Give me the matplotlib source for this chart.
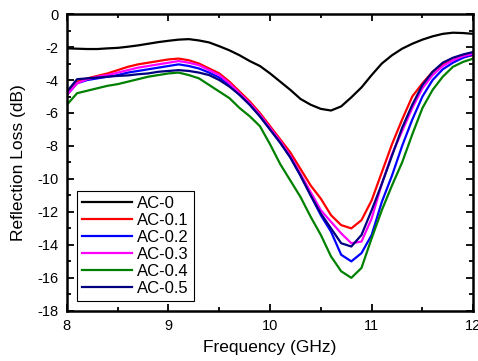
import numpy as np
import matplotlib.pyplot as plt
from matplotlib.ticker import MultipleLocator

plt.rcParams['font.family'] = ['Liberation Sans', 'DejaVu Sans']
plt.rcParams['axes.unicode_minus'] = False

# frequency points (GHz)
freq = np.round(np.arange(8.0, 12.01, 0.1), 1)

# reflection loss (dB)
ac0 = [-2.08, -2.1, -2.12, -2.12, -2.08, -2.05, -1.98, -1.9, -1.8, -1.7,
       -1.62, -1.55, -1.52, -1.6, -1.72, -1.95, -2.2, -2.5, -2.85, -3.15,
       -3.6, -4.1, -4.6, -5.15, -5.5, -5.75, -5.85, -5.6, -5.05, -4.45,
       -3.7, -3.0, -2.5, -2.1, -1.8, -1.55, -1.35, -1.2, -1.13, -1.15, -1.2]
ac01 = [-4.8, -4.1, -3.9, -3.75, -3.6, -3.4, -3.2, -3.05, -2.95, -2.85,
        -2.75, -2.7, -2.8, -3.0, -3.3, -3.6, -4.1, -4.7, -5.3, -6.0,
        -6.8, -7.6, -8.4, -9.4, -10.4, -11.2, -12.2, -12.8, -13.0, -12.5,
        -11.3, -9.6, -7.9, -6.4, -5.0, -4.2, -3.5, -3.05, -2.8, -2.6, -2.5]
ac02 = [-4.9, -4.2, -4.0, -3.9, -3.8, -3.7, -3.55, -3.45, -3.35, -3.25,
        -3.15, -3.05, -3.15, -3.3, -3.55, -3.85, -4.3, -4.9, -5.5, -6.2,
        -7.0, -7.8, -8.7, -9.8, -11.0, -12.2, -13.2, -14.6, -15.0, -14.5,
        -13.4, -11.4, -9.8, -8.0, -6.4, -5.0, -4.0, -3.35, -2.95, -2.65, -2.45]
ac03 = [-4.9, -4.2, -3.95, -3.8, -3.7, -3.55, -3.4, -3.25, -3.15, -3.05,
        -2.95, -2.85, -2.95, -3.1, -3.4, -3.7, -4.2, -4.8, -5.4, -6.1,
        -6.9, -7.7, -8.6, -9.7, -10.8, -11.9, -12.6, -13.3, -13.9, -13.8,
        -12.4, -10.3, -8.5, -7.1, -5.7, -4.5, -3.7, -3.15, -2.8, -2.55, -2.4]
ac04 = [-5.5, -4.8, -4.65, -4.5, -4.35, -4.25, -4.1, -3.95, -3.8, -3.7,
        -3.6, -3.55, -3.7, -3.9, -4.3, -4.7, -5.1, -5.7, -6.2, -6.8,
        -7.9, -9.1, -10.1, -11.1, -12.3, -13.4, -14.7, -15.6, -16.0, -15.4,
        -13.6, -11.9, -10.4, -9.0, -7.3, -5.7, -4.6, -3.8, -3.2, -2.9, -2.7]
ac05 = [-4.7, -3.95, -3.9, -3.85, -3.8, -3.75, -3.72, -3.65, -3.6, -3.5,
        -3.45, -3.4, -3.45, -3.55, -3.7, -4.0, -4.4, -4.9, -5.5, -6.2,
        -7.0, -7.8, -8.7, -9.8, -11.0, -12.1, -13.0, -13.9, -14.1, -13.4,
        -11.9, -10.3, -8.6, -6.9, -5.5, -4.3, -3.5, -2.95, -2.65, -2.45, -2.3]

labels = ['AC-0', 'AC-0.1', 'AC-0.2', 'AC-0.3', 'AC-0.4', 'AC-0.5']
colors = ['black', 'red', 'blue', 'magenta', 'green', 'navy']
series = [ac0, ac01, ac02, ac03, ac04, ac05]

fig = plt.figure(figsize=(4.78, 3.61), dpi=100)
ax = fig.add_axes([0.140, 0.139, 0.850, 0.822])

for y, lab, c in zip(series, labels, colors):
    ax.plot(freq, y, color=c, lw=1.6, label=lab)

ax.set_xlim(8, 12)
ax.set_ylim(-18, 0)
ax.xaxis.set_major_locator(MultipleLocator(1))
ax.xaxis.set_minor_locator(MultipleLocator(0.5))
ax.yaxis.set_major_locator(MultipleLocator(2))
ax.yaxis.set_minor_locator(MultipleLocator(1))
ax.tick_params(which='both', direction='in', top=True, right=True,
               width=1.3, labelsize=10.5)
ax.tick_params(which='major', length=5, pad=6)
ax.tick_params(which='minor', length=3)
for s in ax.spines.values():
    s.set_linewidth(1.8)

ax.set_xlabel('Frequency (GHz)', fontsize=12.5, labelpad=5)
ax.set_ylabel('Reflection Loss (dB)', fontsize=12.5, labelpad=8)

leg = ax.legend(loc='lower left', fontsize=12, fancybox=False,
                edgecolor='black', framealpha=1, handlelength=3.0,
                borderaxespad=0.6, labelspacing=0.12, borderpad=0.3,
                handletextpad=0.3)
leg.get_frame().set_linewidth(0.8)

fig.savefig('out.png', dpi=100)
